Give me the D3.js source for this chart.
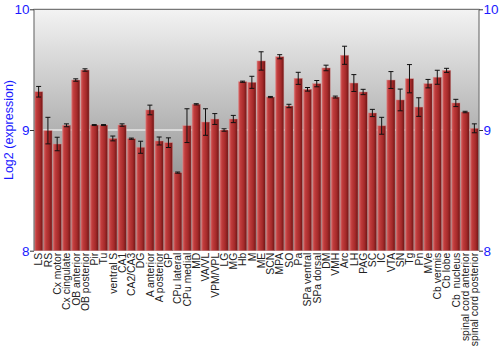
<!DOCTYPE html>
<html>
<head>
<meta charset="utf-8">
<script src="https://cdn.jsdelivr.net/npm/d3@7"></script>
<style>
  body { margin: 0; background: #fff; }
  svg text { font-family: "Liberation Sans", Arial, sans-serif; }
</style>
</head>
<body>
<div id="chart"></div>
<script>
// tissue names along the x axis
var regions = ['LS','RS','Cx motor','Cx cingulate','OB anterior','OB posterior','Pir','Tu',
  'ventral S','CA1','CA2/CA3','DG','A anterior','A posterior','GP','CPu lateral','CPu medial',
  'MD','VA/VL','VPM/VPL','LG','MG','Hb','M','ME','SCN','MPA','SO','Pa','SPa ventral',
  'SPa dorsal','DM','VMH','Arc','LH','PAG','SC','IC','VTA','SN','Tg','Pn','MVe',
  'Cb vermis','Cb lobe','Cb  nucleus','spinal cord anterior','spinal cord posterior'];

// mean log2 expression
var expr = [9.317,8.995,8.884,9.039,9.414,9.497,9.041,9.041,
  8.930,9.041,8.928,8.857,9.166,8.909,8.895,8.647,9.036,
  9.213,9.066,9.091,9.000,9.091,9.400,9.395,9.572,9.273,9.607,9.199,9.428,9.337,
  9.384,9.514,9.273,9.619,9.389,9.315,9.141,9.035,9.414,9.249,9.425,9.190,9.384,
  9.437,9.494,9.224,9.149,9.014];

// error (+/-)
var errs = [0.044,0.11,0.056,0.012,0.01,0.01,0.004,0.004,
  0.02,0.01,0.005,0.05,0.04,0.033,0.04,0.005,0.14,
  0.005,0.11,0.045,0.01,0.03,0.005,0.05,0.076,0.005,0.017,0.014,0.05,0.015,
  0.026,0.023,0.008,0.075,0.07,0.022,0.03,0.07,0.07,0.09,0.117,0.077,0.035,
  0.058,0.017,0.03,0.006,0.037];

var yTicks = [8, 9, 10];

var width = 500, height = 350;
var padding = {top: 9.3, right: 21, bottom: 99.3, left: 34};

var svg = d3.select('#chart').append('svg')
  .attr('width', width)
  .attr('height', height);

var defs = svg.append('defs');
var bg = defs.append('linearGradient').attr('id','bgGrad')
  .attr('x1',0).attr('y1',0).attr('x2',0).attr('y2',1);
bg.append('stop').attr('offset','0%').attr('stop-color','#f3f3f3');
bg.append('stop').attr('offset','100%').attr('stop-color','#707070');

var barGrad = defs.append('linearGradient').attr('id','barGrad')
  .attr('x1',0).attr('y1',0).attr('x2',1).attr('y2',0);
barGrad.append('stop').attr('offset','0%').attr('stop-color','#d86a6a');
barGrad.append('stop').attr('offset','25%').attr('stop-color','#c03c3c');
barGrad.append('stop').attr('offset','65%').attr('stop-color','#a52a2a');
barGrad.append('stop').attr('offset','100%').attr('stop-color','#6e1515');

var x0 = padding.left, x1 = width - padding.right;
var yB = height - padding.bottom, yT = padding.top;

var xScale = d3.scaleBand()
  .domain(regions)
  .range([x0, x1])
  .paddingInner(0.1)
  .paddingOuter(0.05);

var yScale = d3.scaleLinear()
  .domain([8, 10])
  .range([yB, yT]);

// plot background
svg.append('rect')
  .attr('x', x0).attr('y', yT)
  .attr('width', x1 - x0).attr('height', yB - yT)
  .attr('fill', 'url(#bgGrad)');

// gridline at 9
svg.append('line')
  .attr('x1', x0).attr('x2', x1)
  .attr('y1', yScale(9)).attr('y2', yScale(9))
  .attr('stroke', '#ffffff').attr('stroke-width', 1.2);

// bars
svg.append('g').selectAll('rect')
  .data(regions)
  .enter()
  .append('rect')
  .attr('x', function(d){ return xScale(d); })
  .attr('y', function(d,i){ return yScale(expr[i]); })
  .attr('width', xScale.bandwidth())
  .attr('height', function(d,i){ return yB - yScale(expr[i]); })
  .attr('fill', 'url(#barGrad)')
  .attr('stroke', '#d99090')
  .attr('stroke-width', 0.6)
  .attr('stroke-opacity', 0.7);

// error bars
var eb = svg.append('g').attr('stroke', '#111').attr('stroke-width', 1);
regions.forEach(function(d, i){
  var cx = xScale(d) + xScale.bandwidth() / 2;
  var hi = yScale(expr[i] + errs[i]), lo = yScale(expr[i] - errs[i]);
  eb.append('line').attr('x1', cx).attr('x2', cx).attr('y1', hi).attr('y2', lo);
  eb.append('line').attr('x1', cx - 2.5).attr('x2', cx + 2.5).attr('y1', hi).attr('y2', hi);
  eb.append('line').attr('x1', cx - 2.5).attr('x2', cx + 2.5).attr('y1', lo).attr('y2', lo);
});

// frame (top, left, right)
svg.append('path')
  .attr('d', 'M' + x0 + ',' + yB + 'V' + yT + 'H' + x1 + 'V' + yB)
  .attr('fill', 'none').attr('stroke', '#777').attr('stroke-width', 1.2);

// y axes
var yAxisL = d3.axisLeft(yScale).tickValues(yTicks).tickSize(4).tickFormat(d3.format('d'));
var yAxisR = d3.axisRight(yScale).tickValues(yTicks).tickSize(4).tickFormat(d3.format('d'));

var gl = svg.append('g').attr('transform', 'translate(' + x0 + ',0)').call(yAxisL);
var gr = svg.append('g').attr('transform', 'translate(' + x1 + ',0)').call(yAxisR);
[gl, gr].forEach(function(g){
  g.select('.domain').remove();
  g.selectAll('.tick line').attr('stroke', '#333');
  g.selectAll('.tick text').attr('fill', '#1a1aff').attr('font-size', 13.5);
});
gl.selectAll('.tick text').attr('x', -4.5);
gr.selectAll('.tick text').attr('x', 4.5);

// y title
svg.append('text')
  .attr('transform', 'translate(13,' + ((yT + yB) / 2) + ') rotate(-90)')
  .attr('text-anchor', 'middle')
  .attr('fill', '#1a1aff')
  .attr('font-size', 12.5)
  .text('Log2 (expression)');

// x labels
svg.append('g').selectAll('text')
  .data(regions)
  .enter()
  .append('text')
  .attr('transform', function(d){
    return 'translate(' + (xScale(d) + xScale.bandwidth() / 2 + 3.8) + ',' + (yB + 2) + ') rotate(-90)';
  })
  .attr('text-anchor', 'end')
  .attr('fill', '#222')
  .attr('font-size', 10.4)
  .style('white-space', 'pre')
  .text(function(d){ return d; });
</script>
</body>
</html>
